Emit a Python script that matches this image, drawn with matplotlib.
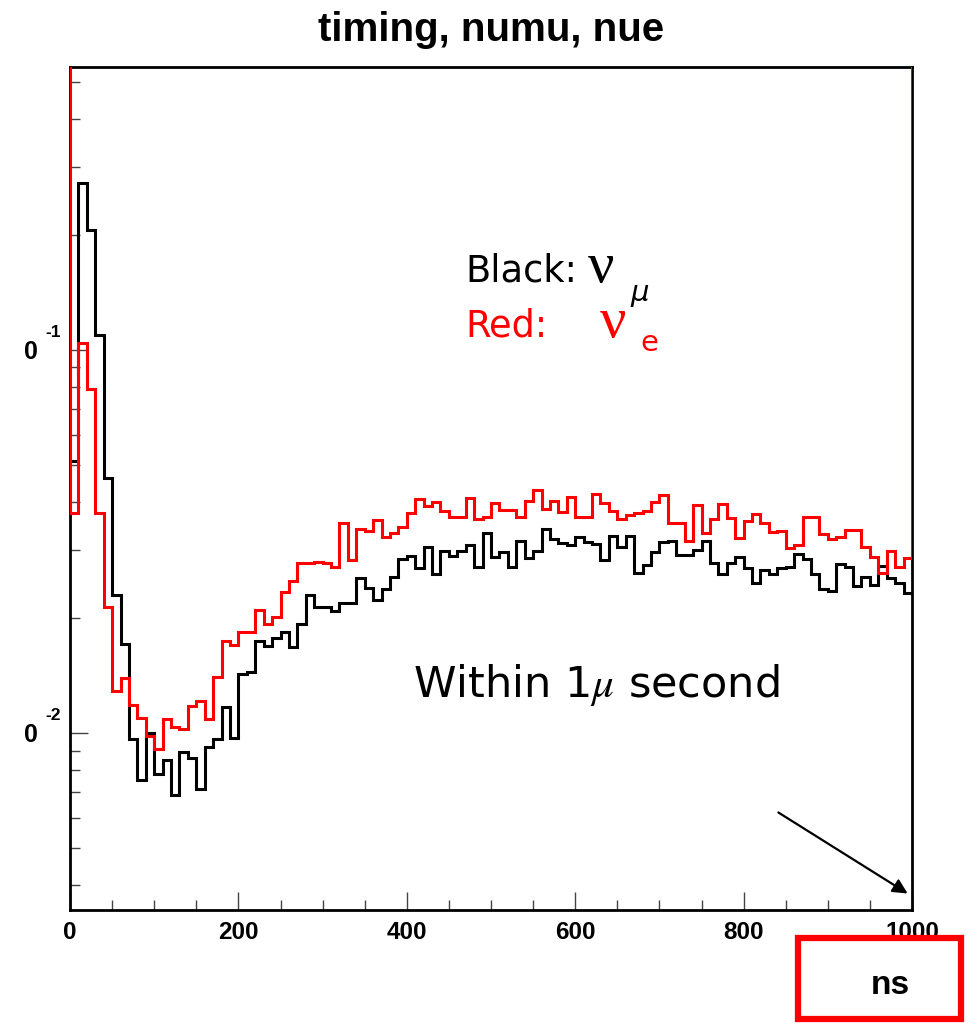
import numpy as np
import matplotlib
matplotlib.use("Agg")
import matplotlib.pyplot as plt
from matplotlib.ticker import MultipleLocator, LogLocator, NullFormatter
from matplotlib.patches import Rectangle

# ---------------- data (fraction of events per 10 ns bin) ----------------
bin_edges_ns = list(range(0, 1001, 10))

numu = [0.0513, 0.2729, 0.2057, 0.1094, 0.0463, 0.0229, 0.0171, 0.00964, 0.00754, 0.0100,
        0.00782, 0.00850, 0.00689, 0.00894, 0.00862, 0.00714, 0.00919, 0.00962, 0.01167, 0.00973,
        0.01422, 0.01439, 0.01742, 0.01687, 0.01774, 0.01839, 0.01677, 0.01923, 0.02299, 0.02129,
        0.02129, 0.02086, 0.02181, 0.02189, 0.02534, 0.02387, 0.02225, 0.02373, 0.02559, 0.02841,
        0.02898, 0.02692, 0.03053, 0.02601, 0.02992, 0.02898, 0.02987, 0.03096, 0.02718, 0.03334,
        0.02876, 0.02975, 0.02718, 0.03178, 0.02859, 0.02992, 0.03403, 0.03205, 0.03140, 0.03096,
        0.03243, 0.03159, 0.03115, 0.02830, 0.03262, 0.03053, 0.03268, 0.02621, 0.02746, 0.02975,
        0.03159, 0.03178, 0.02916, 0.02916, 0.03004, 0.03178, 0.02774, 0.02601, 0.02784, 0.02876,
        0.02692, 0.02459, 0.02665, 0.02601, 0.02692, 0.02708, 0.02939, 0.02850, 0.02601, 0.02380,
        0.02353, 0.02762, 0.02718, 0.02420, 0.02559, 0.02435, 0.02729, 0.02534, 0.02459, 0.02316]

nue = [0.03753, 0.1043, 0.07911, 0.03753, 0.02133, 0.01289, 0.01394, 0.01183, 0.01096, 0.00982,
       0.00908, 0.01088, 0.01039, 0.01024, 0.01176, 0.01212, 0.01090, 0.01403, 0.01739, 0.01697,
       0.01839, 0.01839, 0.02095, 0.01931, 0.02012, 0.02334, 0.02486, 0.02784, 0.02784, 0.02796,
       0.02779, 0.02708, 0.03534, 0.02830, 0.03403, 0.03375, 0.03588, 0.03249, 0.03318, 0.03446,
       0.03742, 0.04076, 0.03908, 0.04017, 0.03798, 0.03671, 0.03671, 0.04103, 0.03616, 0.03653,
       0.03981, 0.03821, 0.03821, 0.03671, 0.04042, 0.04297, 0.03840, 0.04045, 0.03776, 0.04132,
       0.03671, 0.03671, 0.04207, 0.03986, 0.03795, 0.03616, 0.03698, 0.03760, 0.03805, 0.04017,
       0.04182, 0.03528, 0.03536, 0.03178, 0.03939, 0.03334, 0.03614, 0.03962, 0.03636, 0.03224,
       0.03584, 0.03731, 0.03536, 0.03355, 0.03375, 0.03035, 0.03087, 0.03664, 0.03658, 0.03308,
       0.03205, 0.03249, 0.03379, 0.03379, 0.03059, 0.02881, 0.02616, 0.02983, 0.02718, 0.02859]

x_ticks = [0, 200, 400, 600, 800, 1000]
x_tick_labels = ["0", "200", "400", "600", "800", "1000"]

# ---------------- figure ----------------
plt.rcParams['font.family'] = ['Liberation Sans', 'DejaVu Sans']
plt.rcParams['mathtext.fontset'] = 'stix'

W, H = 969, 1023
fig = plt.figure(figsize=(W / 100, H / 100), dpi=100)
fig.patch.set_facecolor('white')


def fx(px):
    return px / W


def fy(py):
    return 1 - py / H


ax = fig.add_axes([fx(70), fy(910), fx(912) - fx(70), fy(67) - fy(910)])
ax.set_yscale('log')
ax.set_xlim(0, 1000)
ax.set_ylim(0.00345, 0.548)

ax.stairs(numu, bin_edges_ns, color='black', lw=2.2, baseline=None, zorder=3)
ax.stairs(nue, bin_edges_ns, color='red', lw=2.2, baseline=5.0, zorder=4)

for s in ax.spines.values():
    s.set_linewidth(2.0)
    s.set_color('black')

ax.set_xticks(x_ticks)
ax.set_xticklabels(x_tick_labels, fontweight='bold', fontsize=17.5)
ax.xaxis.set_minor_locator(MultipleLocator(50))
ax.tick_params(axis='x', which='major', direction='in', length=13, width=1, colors='#444444',
               top=False, pad=8, labelcolor='black')
ax.tick_params(axis='x', which='minor', direction='in', length=7, width=1, color='#444444', top=False)

ax.yaxis.set_major_locator(LogLocator(base=10))
ax.yaxis.set_minor_locator(LogLocator(base=10, subs=range(2, 10)))
ax.yaxis.set_minor_formatter(NullFormatter())
ax.tick_params(axis='y', which='major', direction='in', length=13, width=1, color='#444444',
               right=False, labelleft=False)
ax.tick_params(axis='y', which='minor', direction='in', length=7, width=1, color='#444444',
               right=False, labelleft=False)

# truncated y tick labels as in the original screenshot
fig.text(fx(24), fy(352), '0', fontsize=18, fontweight='bold', ha='left', va='center')
fig.text(fx(45), fy(333), '-1', fontsize=12.5, fontweight='bold', ha='left', va='center')
fig.text(fx(24), fy(735), '0', fontsize=18, fontweight='bold', ha='left', va='center')
fig.text(fx(45), fy(715), '-2', fontsize=12.5, fontweight='bold', ha='left', va='center')

# title
fig.text(fx(491), fy(30), 'timing, numu, nue', fontsize=29, fontweight='bold',
         ha='center', va='center')

# axis unit in red box
fig.text(fx(890), fy(985), 'ns', fontsize=24, fontweight='bold', ha='center', va='center')
fig.patches.append(Rectangle((fx(798), fy(1019)), fx(961) - fx(798), fy(938) - fy(1019),
                             transform=fig.transFigure, fill=False, edgecolor='red', lw=4.5))

# annotations
afont = ['DejaVu Sans']
sfont = ['Liberation Serif', 'DejaVu Serif']
fig.text(fx(465), fy(282), 'Black:', fontsize=26.5, color='black', family=afont,
         ha='left', va='baseline')
fig.text(fx(588), fy(282), 'ν', fontsize=42, color='black', family=sfont,
         ha='left', va='baseline')
fig.text(fx(630), fy(301), 'μ', fontsize=21, color='black', family=afont, style='italic',
         ha='left', va='baseline')
fig.text(fx(465), fy(337), 'Red:', fontsize=26.5, color='red', family=afont,
         ha='left', va='baseline')
fig.text(fx(600), fy(337), 'ν', fontsize=42, color='red', family=sfont,
         ha='left', va='baseline')
fig.text(fx(640), fy(351), 'e', fontsize=21, color='red', family=afont,
         ha='left', va='baseline')
fig.text(fx(413), fy(697), r'Within 1$\mathit{\mu}$ second', fontsize=31, color='black',
         family=afont, ha='left', va='baseline')

ax.annotate('', xy=(fx(910), fy(895)), xytext=(fx(776), fy(811)),
            xycoords='figure fraction', textcoords='figure fraction',
            arrowprops=dict(arrowstyle='-|>', color='black', lw=1.6, mutation_scale=22),
            annotation_clip=False)

fig.savefig('out.png', dpi=100)
